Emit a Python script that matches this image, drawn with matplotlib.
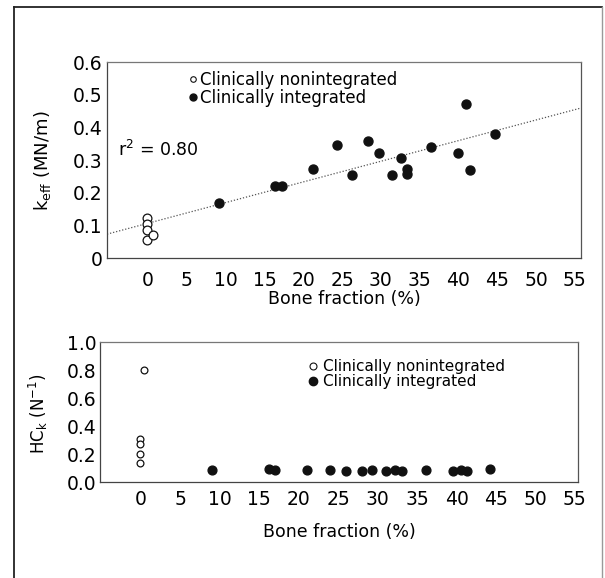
import matplotlib
matplotlib.use("Agg")
import matplotlib.pyplot as plt
import numpy as np
from matplotlib.lines import Line2D

# top panel: effective stiffness vs bone fraction
top_non_x = [-0.2, -0.2, -0.2, -0.2, 0.6]
top_non_y = [0.123, 0.105, 0.086, 0.055, 0.069]
top_int_x = [9.1, 16.4, 17.2, 21.3, 24.3, 26.3, 28.4, 29.7, 31.4, 32.6,
             33.4, 33.4, 36.5, 40.0, 41.0, 41.5, 44.7]
top_int_y = [0.168, 0.219, 0.219, 0.272, 0.345, 0.253, 0.357, 0.322, 0.253, 0.306,
             0.273, 0.257, 0.341, 0.322, 0.472, 0.270, 0.379]
fit_intercept = 0.1065
fit_slope = 0.00632
r2_text = "r$^2$ = 0.80"

# bottom panel: HC_k vs bone fraction
bot_non_x = [0.4, -0.1, -0.1, -0.1, -0.1]
bot_non_y = [0.80, 0.306, 0.268, 0.200, 0.136]
bot_int_x = [8.95, 16.2, 17.0, 21.0, 24.0, 26.0, 28.0, 29.3, 31.0, 32.2,
             33.1, 36.1, 39.6, 40.6, 41.3, 44.2]
bot_int_y = [0.084, 0.091, 0.084, 0.084, 0.089, 0.079, 0.079, 0.084, 0.079, 0.084,
             0.082, 0.086, 0.079, 0.084, 0.082, 0.096]

x_ticks = list(range(0, 60, 5))
top_yticks = [0, 0.1, 0.2, 0.3, 0.4, 0.5, 0.6]
top_ylabels = ["0", "0.1", "0.2", "0.3", "0.4", "0.5", "0.6"]
bot_yticks = [0.0, 0.2, 0.4, 0.6, 0.8, 1.0]
bot_ylabels = ["0.0", "0.2", "0.4", "0.6", "0.8", "1.0"]
lab_non = "Clinically nonintegrated"
lab_int = "Clinically integrated"

plt.rcParams["font.family"] = ["DejaVu Sans"]
plt.rcParams["mathtext.fontset"] = "dejavusans"

W, H = 605, 578
fig = plt.figure(figsize=(W / 100, H / 100), dpi=100)

# outer frame (no bottom edge in the original crop)
fig.add_artist(Line2D([14 / W, 14 / W], [0, 1 - 7 / H], transform=fig.transFigure, color="#222", lw=1.3))
fig.add_artist(Line2D([14 / W, 602 / W], [1 - 7 / H, 1 - 7 / H], transform=fig.transFigure, color="#222", lw=1.3))
fig.add_artist(Line2D([602 / W, 602 / W], [0, 1 - 7 / H], transform=fig.transFigure, color="#999", lw=1.0))

ax1 = fig.add_axes([107 / W, 1 - 258 / H, (581 - 107) / W, (258 - 62) / H])
ax2 = fig.add_axes([100 / W, 1 - 482 / H, (578 - 100) / W, (482 - 342) / H])

for ax in (ax1, ax2):
    for s in ax.spines.values():
        s.set_color("#444")
        s.set_linewidth(0.9)
    ax.spines["top"].set_color("#777")
    ax.spines["right"].set_color("#555")
    ax.tick_params(length=0, labelsize=13.5)
    ax.set_xticks(x_ticks)

# top
ax1.set_xlim(-5.3, 55.8)
ax1.set_ylim(0, 0.6)
xs = np.array(ax1.get_xlim())
ax1.plot(xs, fit_intercept + fit_slope * xs, color="#555", lw=0.9, ls=(0, (1, 1.5)))
ax1.scatter(top_non_x, top_non_y, s=40, facecolor="white", edgecolor="#111", linewidth=0.9, zorder=3)
ax1.scatter(top_int_x, top_int_y, s=42, color="#111", zorder=3)
ax1.set_yticks(top_yticks)
ax1.set_yticklabels(top_ylabels)
ax1.tick_params(axis="x", pad=9)
ax1.tick_params(axis="y", pad=3)
ax1.set_xlabel("Bone fraction (%)", fontsize=12.5, labelpad=0)
ax1.set_ylabel(r"k$_{\rm eff}$ (MN/m)", fontsize=13)
ax1.yaxis.set_label_coords(53 / W, 1 - 161 / H, transform=fig.transFigure)
fig.text(118 / W, 1 - 150 / H, r2_text, fontsize=12.5, va="center", ha="left")

h_non = Line2D([], [], ls="none", marker="o", ms=4, mfc="white", mec="#111", mew=0.8)
h_int = Line2D([], [], ls="none", marker="o", ms=5, mfc="#111", mec="#111")
ax1.legend([h_non, h_int], [lab_non, lab_int], loc="center left",
           bbox_to_anchor=(190 / W, 1 - 89 / H), bbox_transform=fig.transFigure,
           frameon=False, fontsize=12, handlelength=0.4, handletextpad=0.2,
           labelspacing=0.02, borderpad=0, borderaxespad=0)

# bottom
ax2.set_xlim(-5.2, 55.4)
ax2.set_ylim(0, 1.0)
ax2.scatter(bot_non_x, bot_non_y, s=24, facecolor="white", edgecolor="#111", linewidth=0.9, zorder=3)
ax2.scatter(bot_int_x, bot_int_y, s=40, color="#111", zorder=3)
ax2.set_yticks(bot_yticks)
ax2.set_yticklabels(bot_ylabels)
ax2.tick_params(axis="x", pad=6)
ax2.tick_params(axis="y", pad=2.5)
ax2.set_xlabel("Bone fraction (%)", fontsize=12.5, labelpad=10)
ax2.set_ylabel(r"HC$_{\rm k}$ (N$^{-1}$)", fontsize=12)
ax2.yaxis.set_label_coords(50 / W, 1 - 414 / H, transform=fig.transFigure)

h_non2 = Line2D([], [], ls="none", marker="o", ms=5, mfc="white", mec="#111", mew=0.8)
h_int2 = Line2D([], [], ls="none", marker="o", ms=6, mfc="#111", mec="#111")
ax2.legend([h_non2, h_int2], [lab_non, lab_int], loc="center left",
           bbox_to_anchor=(308 / W, 1 - 374 / H), bbox_transform=fig.transFigure,
           frameon=False, fontsize=11, handlelength=0.6, handletextpad=0.4,
           labelspacing=0.02, borderpad=0, borderaxespad=0)

fig.savefig("out.png", dpi=100)
